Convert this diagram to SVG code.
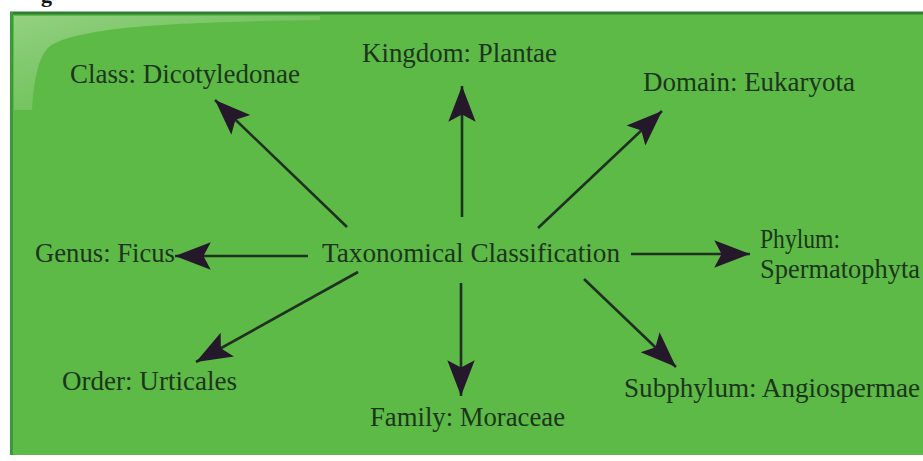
<svg xmlns="http://www.w3.org/2000/svg" width="923" height="461" viewBox="0 0 923 461">
  <defs>
    <style>
      .lbl { font-family: "Liberation Serif", "Times New Roman", serif; font-size: 27px; fill: #1c351b; }
      .conn line { stroke: #1f3020; stroke-width: 2.6; marker-end: url(#head); }
    </style>
    <marker id="head" markerUnits="userSpaceOnUse" markerWidth="40" markerHeight="32" viewBox="-36 -14 38 28" refX="0" refY="0" orient="auto">
      <path d="M0,0 L-34,-13 L-27,0 L-34,13 Z" fill="#24182a"/>
    </marker>
    <linearGradient id="gloss" x1="0" y1="0" x2="1" y2="1">
      <stop offset="0" stop-color="#b8e0a8" stop-opacity="0.6"/>
      <stop offset="1" stop-color="#8fd07a" stop-opacity="0.1"/>
    </linearGradient>
  </defs>
  <rect width="923" height="461" fill="#ffffff"/>
  <text x="41" y="2" style="font-family:'Liberation Serif',serif;font-size:22px;font-weight:bold;fill:#111">g</text>
  <g id="panel">
    <rect x="10" y="12" width="913" height="443" fill="#5dba47"/>
    <path d="M14,16 L320,16 L320,20 C180,22 80,26 50,46 C38,56 34,80 32,110 L14,110 Z" fill="url(#gloss)"/>
    <line x1="10" y1="13" x2="923" y2="13" stroke="#2e7d32" stroke-width="3"/>
    <line x1="11.5" y1="12" x2="11.5" y2="455" stroke="#3a9a38" stroke-width="3"/>
  </g>
  <g id="connectors" class="conn">
    <line x1="347" y1="227" x2="215" y2="100"/>
    <line x1="462" y1="217" x2="462" y2="86"/>
    <line x1="538" y1="228" x2="662" y2="111"/>
    <line x1="631" y1="254" x2="750" y2="254"/>
    <line x1="584" y1="279" x2="676" y2="367"/>
    <line x1="461" y1="283" x2="461" y2="396"/>
    <line x1="358" y1="272" x2="196" y2="362"/>
    <line x1="308" y1="256" x2="175" y2="256"/>
  </g>
  <g id="center"><text class="lbl" x="322" y="262" textLength="298" lengthAdjust="spacingAndGlyphs">Taxonomical Classification</text></g>
  <g id="class"><text class="lbl" x="70" y="83" textLength="230" lengthAdjust="spacingAndGlyphs">Class: Dicotyledonae</text></g>
  <g id="kingdom"><text class="lbl" x="362" y="62" textLength="195" lengthAdjust="spacingAndGlyphs">Kingdom: Plantae</text></g>
  <g id="domain"><text class="lbl" x="643" y="91" textLength="212" lengthAdjust="spacingAndGlyphs">Domain: Eukaryota</text></g>
  <g id="phylum">
    <text class="lbl" x="760" y="248" textLength="80" lengthAdjust="spacingAndGlyphs">Phylum:</text>
    <text class="lbl" x="760" y="278" textLength="160" lengthAdjust="spacingAndGlyphs">Spermatophyta</text>
  </g>
  <g id="subphylum"><text class="lbl" x="624" y="397" textLength="296" lengthAdjust="spacingAndGlyphs">Subphylum: Angiospermae</text></g>
  <g id="family"><text class="lbl" x="370" y="426" textLength="195" lengthAdjust="spacingAndGlyphs">Family: Moraceae</text></g>
  <g id="order"><text class="lbl" x="62" y="390" textLength="175" lengthAdjust="spacingAndGlyphs">Order: Urticales</text></g>
  <g id="genus"><text class="lbl" x="35" y="262" textLength="140" lengthAdjust="spacingAndGlyphs">Genus: Ficus</text></g>
</svg>
